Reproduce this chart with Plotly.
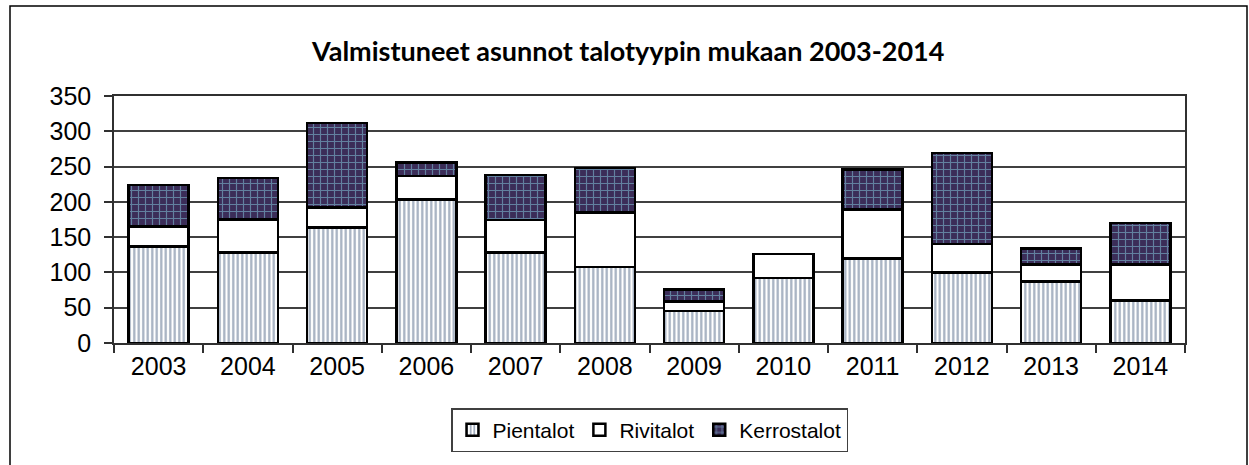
import plotly.graph_objects as go

years = ["2003", "2004", "2005", "2006", "2007", "2008", "2009", "2010", "2011", "2012", "2013", "2014"]
pientalot = [137, 128, 164, 203, 128, 108, 45, 92, 120, 100, 87, 60]
rivitalot = [28, 47, 28, 34, 46, 77, 14, 34, 69, 40, 24, 51]
kerrostalot = [59, 59, 120, 19, 64, 63, 17, 0, 57, 129, 23, 59]
y_ticks = [0, 50, 100, 150, 200, 250, 300, 350]

OFF = 0  # body margin removed via post_script
L, R, T, B = 114, 1185, 96, 343  # plot area in page pixels
PW, PH = R - L, B - T


def px(x):
    return (x - L) / PW


def py(y):
    return (B - y) / PH


line = dict(color="black", width=2.5)
fig = go.Figure()
fig.add_trace(go.Bar(
    x=years, y=pientalot, name="Pientalot",
    marker=dict(color="white", line=line,
                pattern=dict(shape="|", fgcolor="#4a5f82", bgcolor="white", size=4.5, solidity=0.5)),
))
fig.add_trace(go.Bar(
    x=years, y=rivitalot, name="Rivitalot",
    marker=dict(color="white", line=line),
))
fig.add_trace(go.Bar(
    x=years, y=kerrostalot, name="Kerrostalot",
    marker=dict(color="#3b2d58", line=line,
                pattern=dict(shape="+", fgcolor="#8ad4e6", bgcolor="#3b2d58", size=7, solidity=0.3)),
))

axis_font = dict(family="Liberation Sans, Arial, sans-serif", size=25, color="black")

fig.update_layout(
    barmode="stack",
    bargap=0.33,
    width=1249, height=465,
    margin=dict(l=L - OFF, r=1249 - R + OFF, t=T - OFF, b=465 - B + OFF),
    paper_bgcolor="white", plot_bgcolor="white",
    showlegend=True,
    legend=dict(
        orientation="h", x=0.5, xanchor="center", y=py(408), yanchor="top",
        font=dict(family="Liberation Sans, Arial, sans-serif", size=21, color="black"),
        bordercolor="#404040", borderwidth=1.5, bgcolor="white",
        itemwidth=30, traceorder="normal",
    ),
    xaxis=dict(
        type="category", tickfont=axis_font, showline=True, linecolor="#303030", linewidth=1.5,
        ticks="outside", tickson="boundaries", ticklen=8, tickcolor="#303030", tickwidth=1.5,
        mirror=True, showgrid=False,
    ),
    yaxis=dict(
        range=[0, 350], tickvals=y_ticks, tickfont=axis_font,
        showline=True, linecolor="#303030", linewidth=1.5, mirror=True,
        ticks="outside", ticklen=8, tickcolor="#303030", tickwidth=1.5,
        showgrid=True, gridcolor="#404040", gridwidth=1.5, zeroline=False,
        ticklabelstandoff=8,
    ),
    annotations=[dict(
        text="<b>Valmistuneet asunnot talotyypin mukaan 2003-2014</b>",
        xref="paper", yref="paper", x=px(627), y=py(51),
        xanchor="center", yanchor="middle", showarrow=False,
        font=dict(family="Lato, Carlito, Calibri, sans-serif", size=27, color="black"),
    )],
    shapes=[dict(
        type="rect", xref="paper", yref="paper",
        x0=px(10), x1=px(1247),
        y0=py(480), y1=py(6),
        line=dict(color="black", width=1.5), layer="below",
    )],
)

fig.write_html(
    "out.html",
    config={"displayModeBar": False},
    post_script="document.body.style.margin='0';document.body.style.padding='0';",
)
